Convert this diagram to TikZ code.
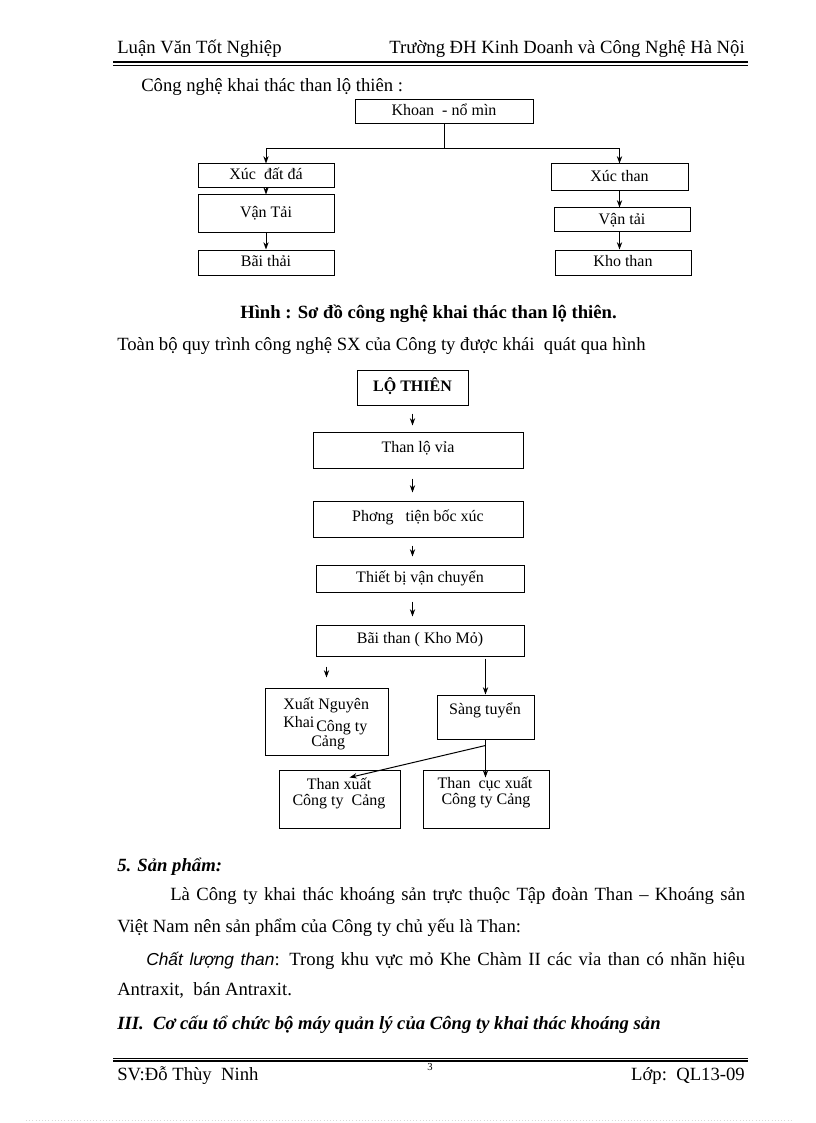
\documentclass[tikz,border=0pt]{standalone}
\usepackage{fontspec}
\setmainfont{Liberation Serif}
\newfontfamily\sansf{Liberation Sans}
\usetikzlibrary{arrows.meta,calc}
\begin{document}
\begin{tikzpicture}[x=0.75pt,y=-0.75pt,
  txt/.style={inner sep=0pt, font=\fontsize{14}{16}\selectfont},
  btxt/.style={inner sep=0pt, font=\fontsize{12}{14}\selectfont},
  bx/.style={draw, line width=0.75pt, inner sep=0pt, rectangle, anchor=center,
    text height=8.5pt, text depth=2.5pt, font=\fontsize{12}{14}\selectfont},
  arr/.style={line width=0.75pt, -{Stealth[length=5.5pt,width=4pt]}},
  ln/.style={line width=0.75pt}]
\useasboundingbox[fill=white] (0,0) rectangle (816,1123);

% header
\node[txt, anchor=base west] (hl) at (117,54) {Luận Văn Tốt Nghiệp};
\node[txt, anchor=base east] (hr) at (745,54) {Trường ĐH Kinh Doanh và Công Nghệ Hà Nội};
\draw[line width=1.6pt] (113,62.3) -- (748,62.3);
\draw[line width=0.6pt] (113,65) -- (748,65);

\node[txt, anchor=base west] (t1) at (141,92) {Công nghệ khai thác than lộ thiên :};

% chart 1
\node[bx, minimum width=133.5pt, minimum height=18pt] (khoan) at (444,112) {Khoan\ \ - nổ mìn};
\node[bx, minimum width=102pt, minimum height=18pt] (xdd) at (266,176) {Xúc\ \ đất đá};
\node[bx, minimum width=102pt, minimum height=28.5pt] (vt1) at (266,214) {Vận Tải};
\node[bx, minimum width=102pt, minimum height=18.75pt] (bth) at (266,262.5) {Bãi thải};
\node[bx, minimum width=102.75pt, minimum height=20.25pt] (xt) at (619.5,177.5) {Xúc than};
\node[bx, minimum width=102pt, minimum height=18pt] (vt2) at (622,220) {Vận tải};
\node[bx, minimum width=102pt, minimum height=18.75pt] (kt) at (623,262.5) {Kho than};
\coordinate (j) at ($(khoan.south)+(0,24)$);
\draw[ln] (khoan.south) -- (j);
\draw[arr] (j) -| (xdd.north);
\draw[arr] (j) -| (xt.north);
\draw[arr] (xdd.south) -- (vt1.north);
\draw[arr] (vt1.south) -- (bth.north);
\draw[arr] (xt.south) -- (xt.south |- vt2.north);
\draw[arr] (xt.south |- vt2.south) -- (xt.south |- kt.north);

\node[txt, anchor=base west, font=\fontsize{14}{16}\selectfont\bfseries] (cap) at (240,318) {Hình : Sơ đồ công nghệ khai thác than lộ thiên.};
\node[txt, anchor=base west] (t2) at (117,350) {Toàn bộ quy trình công nghệ SX của Công ty được khái\ \ quát qua hình};

% chart 2
\node[bx, minimum width=83.25pt, minimum height=26.25pt, font=\fontsize{12}{14}\selectfont\bfseries] (lt) at (412.5,387.5) {LỘ THIÊN};
\node[bx, minimum width=157.5pt, minimum height=27pt, text depth=4.5pt] (tlv) at (418,450) {Than lộ vỉa};
\node[bx, minimum width=157.5pt, minimum height=27pt, text depth=4.5pt] (ptb) at (418,519) {Phơng\ \ \ tiện bốc xúc};
\node[bx, minimum width=156pt, minimum height=20.25pt] (tbvc) at (420,578.5) {Thiết bị vận chuyển};
\node[bx, minimum width=156pt, minimum height=23.25pt, text depth=3.5pt] (bt) at (420,640.5) {Bãi than ( Kho Mỏ)};
\node[bx, minimum width=92.25pt, minimum height=50.25pt] (xn) at (326.5,721.5) {};
\node[bx, minimum width=72.75pt, minimum height=33pt] (st) at (485.5,717) {};
\node[bx, minimum width=90.75pt, minimum height=43.5pt] (tx) at (339.5,799) {};
\node[bx, minimum width=94.5pt, minimum height=43.5pt] (tc) at (486,799) {};

\node[btxt, anchor=base west] (xn1) at (283,709) {Xuất Nguyên};
\node[btxt, anchor=base west] (xn2) at (283,727) {Khai};
\node[btxt, anchor=base west] (xn3) at (316,731) {Công ty};
\node[btxt, anchor=base west] (xn4) at (311,746) {Cảng};
\node[btxt, anchor=base] (st1) at (485,714) {Sàng tuyển};
\node[btxt, anchor=base] (tx1) at (339,789) {Than xuất};
\node[btxt, anchor=base] (tx2) at (339,805) {Công ty\ \ Cảng};
\node[btxt, anchor=base] (tc1) at (485,788) {Than\ \ cục xuất};
\node[btxt, anchor=base] (tc2) at (486,804) {Công ty Cảng};

\draw[arr] ($(lt.south)+(0,8)$) -- ($(lt.south |- tlv.north)+(0,-6)$);
\draw[arr] ($(lt.south |- tlv.south)+(0,10)$) -- ($(lt.south |- ptb.north)+(0,-8)$);
\draw[arr] ($(lt.south |- ptb.south)+(0,8)$) -- ($(lt.south |- tbvc.north)+(0,-8)$);
\draw[arr] ($(lt.south |- tbvc.south)+(0,9)$) -- ($(lt.south |- bt.north)+(0,-8)$);
\draw[arr] ($(xn.north |- bt.south)+(0,10)$) -- ($(xn.north)+(0,-10)$);
\draw[arr] ($(st.north |- bt.south)+(0,2)$) -- (st.north);
\coordinate (sb) at ($(st.south)+(0,6)$);
\draw[arr] (st.south) -- ($(st.south |- tc.north)+(0,8)$);
\draw[arr] (sb) -- ($(tx.north)+(10,8)$);

% text
\node[txt, anchor=base west, font=\fontsize{14}{16}\selectfont\bfseries\itshape] (s5) at (117,871) {5. Sản phẩm:};
\node[txt, anchor=base west] (p1) at (170,900) {\makebox[431.25pt][s]{Là Công ty khai\ thác khoáng sản trực thuộc Tập đoàn Than – Khoáng sản}};
\node[txt, anchor=base west] (p2) at (117,932) {Việt Nam nên sản phẩm của Công ty chủ yếu là Than:};
\node[txt, anchor=base west] (p3) at (146,965) {\makebox[449.25pt][s]{{\sansf\itshape\fontsize{13}{15}\selectfont Chất lượng than}: Trong khu vực mỏ Khe Chàm II các vỉa than có nhãn hiệu}};
\node[txt, anchor=base west] (p4) at (117,995) {Antraxit,\ \ bán Antraxit.};
\node[txt, anchor=base west, font=\fontsize{14}{16}\selectfont\bfseries\itshape] (s3) at (117,1029) {III.\ \ Cơ cấu tổ chức bộ máy quản lý của Công ty khai thác khoáng sản};

% footer
\draw[line width=0.6pt] (113,1058.5) -- (748,1058.5);
\draw[line width=1.6pt] (113,1061.3) -- (748,1061.3);
\node[inner sep=0pt, anchor=base, font=\fontsize{8}{9}\selectfont] (pg) at (430,1070) {3};
\node[txt, anchor=base west] (fl) at (117,1080) {SV:Đỗ Thùy\ \ Ninh};
\node[txt, anchor=base east] (fr) at (745,1080) {Lớp:\ \ QL13-09};
\draw[gray!30, line width=0.4pt, dotted] (26,1120) -- (791,1120);
\end{tikzpicture}
\end{document}
